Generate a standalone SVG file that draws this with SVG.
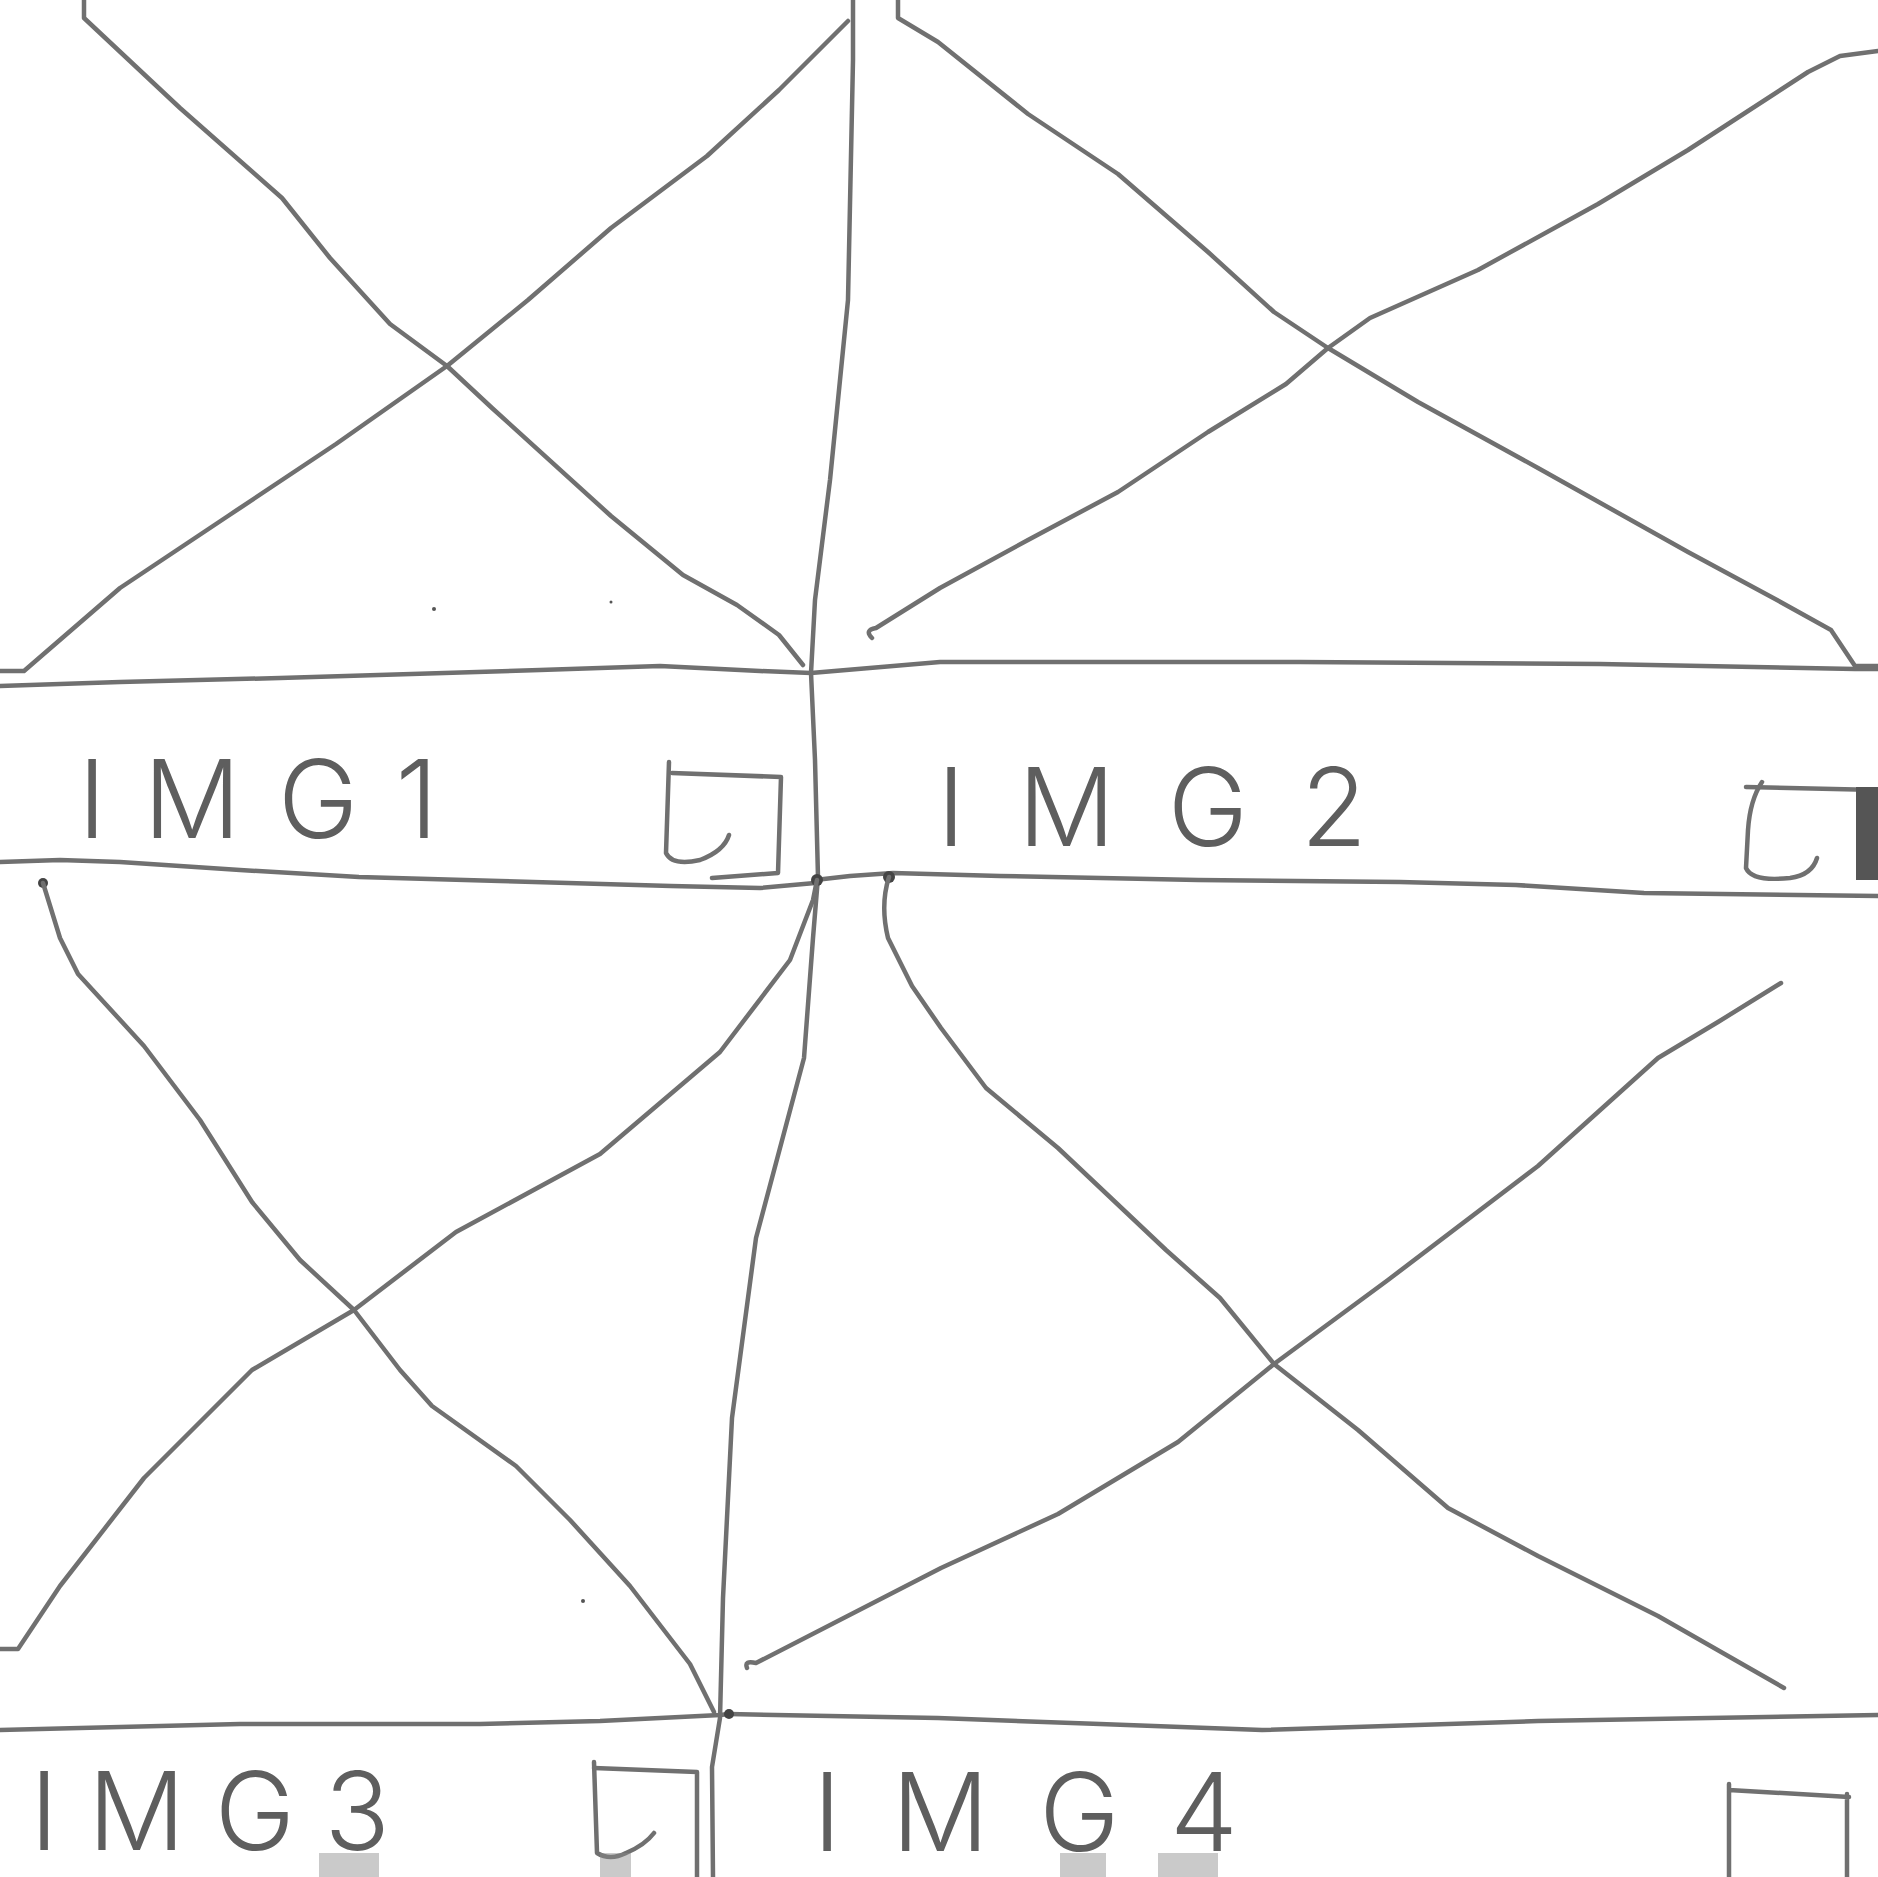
<svg xmlns="http://www.w3.org/2000/svg" width="1878" height="1877" viewBox="0 0 1878 1877">
<style>
.ln{fill:none;stroke:#707070;stroke-width:4.5;stroke-linecap:round;stroke-linejoin:round}
.lbl{font-family:Inter,"Liberation Sans",sans-serif;font-weight:300;font-size:108px;fill:#5e5e5e}
.dot{fill:#444}
.streak{fill:#8a8a8a;opacity:0.45}
</style>
<rect width="1878" height="1877" fill="#ffffff"/>
<g id="connectors">
<path class="ln" d="M853,0 L853,60 L848,300 L830,480 L815,600 L811,673 L815,760 L818,877 L813,938 L804,1058 L756,1238 L732,1418 L723,1598 L720,1718 L712,1767 L713,1877"/>
<path class="ln" d="M0,686 L120,682 L280,678 L540,670 L660,666 L760,671 L811,673 L940,662 L1300,662 L1600,664 L1855,669 L1878,669"/>
<path class="ln" d="M0,862 L60,860 L120,862 L240,870 L359,877 L500,881 L671,886 L760,888 L815,883"/>
<path class="ln" d="M815,880 L850,876 L893,873 L1000,876 L1198,880 L1400,882 L1516,885 L1644,893 L1878,896"/>
<path class="ln" d="M0,1730 L240,1724 L480,1724 L600,1721 L720,1715 L729,1714"/>
<path class="ln" d="M729,1714 L938,1718 L1100,1724 L1262,1730 L1538,1721 L1878,1715"/>
<circle class="dot" cx="817" cy="880" r="6"/>
<circle class="dot" cx="889" cy="877" r="6"/>
<circle class="dot" cx="43" cy="883" r="5"/>
<circle class="dot" cx="729" cy="1714" r="5"/>
</g>
<g id="img1">
<path class="ln" d="M84,0 L84,18 L180,108 L282,198 L330,258 L390,324 L447,366 L492,408 L611,516 L683,575 L737,605 L779,635 L803,665"/>
<path class="ln" d="M0,671 L24,671 L120,588 L228,516 L336,444 L447,366 L528,300 L611,228 L707,156 L779,90 L848,21"/>
<text class="lbl" x="78" y="838" textLength="360" lengthAdjust="spacing">IMG1</text>
<path class="ln" d="M669,762 L666,853 Q672,866 700,860 Q724,851 729,835"/>
<path class="ln" d="M672,773 L781,777 L778,873 L712,878"/>
</g>
<g id="img2">
<path class="ln" d="M898,0 L898,18 L938,42 L1028,114 L1118,174 L1208,252 L1274,312 L1328,348 L1418,402 L1538,468 L1688,552 L1777,600 L1831,630 L1855,666 L1878,666"/>
<path class="ln" d="M872,638 Q864,630 876,628 L940,588 L1028,540 L1118,492 L1208,432 L1286,384 L1328,348 L1370,318 L1478,270 L1598,204 L1688,150 L1808,72 L1840,56 L1878,51"/>
<text class="lbl" x="937" y="846" textLength="430" lengthAdjust="spacing">IMG2</text>
<path class="ln" d="M1762,782 Q1750,800 1748,830 L1746,868 Q1752,882 1790,878 Q1812,875 1817,858"/>
<path class="ln" d="M1746,787 L1878,790"/>
<rect x="1856" y="787" width="22" height="93" fill="#555"/>
</g>
<g id="img3">
<path class="ln" d="M43,883 L60,938 L78,974 L144,1046 L200,1120 L252,1202 L300,1260 L354,1310 L400,1370 L432,1406 L516,1466 L570,1520 L630,1586 L690,1664 L714,1712"/>
<path class="ln" d="M0,1649 L18,1649 L60,1586 L144,1478 L252,1370 L354,1310 L456,1232 L600,1154 L720,1052 L790,960 L813,900 L817,880"/>
<text class="lbl" x="30" y="1850" textLength="360" lengthAdjust="spacing">IMG3</text>
<path class="ln" d="M594,1762 L597,1853 Q610,1861 626,1853 Q645,1845 654,1833"/>
<path class="ln" d="M594,1768 L697,1772 L697,1877"/>
<rect class="streak" x="319" y="1853" width="60" height="24"/>
<rect class="streak" x="600" y="1853" width="31" height="24"/>
</g>
<g id="img4">
<path class="ln" d="M889,877 Q880,905 888,938 L912,986 L941,1028 L986,1088 L1058,1148 L1166,1250 L1220,1298 L1274,1364 L1358,1430 L1448,1508 L1538,1556 L1658,1616 L1784,1688"/>
<path class="ln" d="M747,1668 Q744,1660 756,1663 L941,1568 L1058,1514 L1178,1442 L1274,1364 L1388,1280 L1538,1166 L1658,1058 L1718,1022 L1781,983"/>
<text class="lbl" x="813" y="1851" textLength="425" lengthAdjust="spacing">IMG4</text>
<path class="ln" d="M1729,1784 L1729,1877 M1729,1790 L1849,1797 M1847,1794 L1847,1877"/>
<rect class="streak" x="1060" y="1853" width="46" height="24"/>
<rect class="streak" x="1158" y="1853" width="60" height="24"/>
</g>
<g id="specks">
<circle cx="434" cy="609" r="2" fill="#555"/>
<circle cx="611" cy="602" r="1.5" fill="#555"/>
<circle cx="583" cy="1601" r="2" fill="#555"/>
</g>
</svg>
